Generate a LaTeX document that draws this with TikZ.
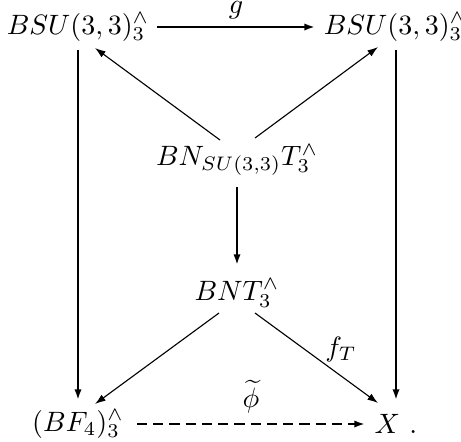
\documentclass[tikz,border=0pt]{standalone}
\usetikzlibrary{arrows.meta,calc}
\begin{document}
\begin{tikzpicture}[x=0.357pt,y=-0.357pt,
  obj/.style={inner sep=0pt},
  arr/.style={line width=0.4pt,-{Latex[length=3.8pt,width=2.6pt]}},
  arrthick/.style={line width=0.8pt,-{Latex[length=3.8pt,width=2.6pt]}},
  dsh/.style={arrthick,dash pattern=on 3.6pt off 2.2pt},
  lab/.style={inner sep=1pt}]
\useasboundingbox (0,0) rectangle (461,441);
\node[obj] (tl) at (78,27) {$BSU(3,3)^{\wedge}_3$};
\node[obj] (tr) at (395,27) {$BSU(3,3)^{\wedge}_3$};
\node[obj] (c) at (237,160) {$BN_{SU(3,3)}T^{\wedge}_3$};
\node[obj] (n) at (237,293) {$BNT^{\wedge}_3$};
\node[obj] (bl) at (78,424) {$(BF_4)^{\wedge}_3$};
\node[obj] (br) at (396,424) {$X\ .$};
% top horizontal
\draw[arrthick] ($(tl)+(79,0)$) -- ($(tr)+(-80,0)$) node[midway,above=1.5pt,lab] {$g$};
% diagonals from center
\draw[arr] ($(c)+(-17,-20)$) -- ($(tl)+(17,21)$);
\draw[arr] ($(c)+(18,-22)$) -- ($(tr)+(-17,20)$);
% center down
\draw[arrthick] ($(c)+(0,27)$) -- ($(n)+(0,-28)$);
% from BNT
\draw[arr] ($(n)+(-18,20)$) -- ($(bl)+(17,-20)$);
\draw[arr] ($(n)+(18,20)$) -- ($(br)+(-18,-21)$) node[pos=0.56,anchor=south west,inner sep=0.3pt] {$f_T$};
% verticals
\draw[arrthick] ($(tl)+(0,23)$) -- ($(bl)+(0,-24)$);
\draw[arrthick] ($(tr)+(1,23)$) -- ($(br)+(0,-24)$);
% dashed bottom
\draw[dsh] ($(bl)+(59,0)$) -- ($(br)+(-31,0)$) node[midway,above=2.5pt,lab] {$\widetilde{\phi}$};
\end{tikzpicture}
\end{document}
